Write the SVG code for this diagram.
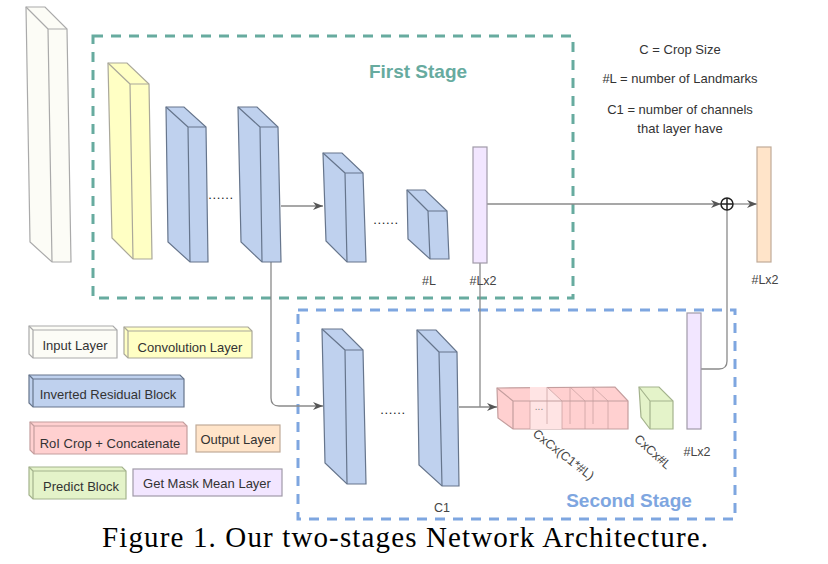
<svg xmlns="http://www.w3.org/2000/svg" width="828" height="564" viewBox="0 0 828 564">
<defs>
<marker id="arr" markerWidth="10" markerHeight="8" refX="10" refY="4" orient="auto" markerUnits="userSpaceOnUse">
<path d="M0,0 L10,4 L0,8 L3,4 Z" fill="#555"/>
</marker>
<style>
.t{font-family:"Liberation Sans",Arial,sans-serif;fill:#333;}
.lg{font-size:13px;text-anchor:middle;}
.lb{font-size:12.5px;text-anchor:middle;fill:#444;}
.dots{font-size:13px;text-anchor:middle;fill:#222;letter-spacing:0.6px;}
.inp{fill:#fcfcf6;stroke:#aaa;stroke-width:1.2;}
.yel{fill:#ffffc4;stroke:#aaa89a;stroke-width:1.2;}
.blu{fill:#bfd1ee;stroke:#66758c;stroke-width:1.2;}
.pnk{fill:#ffd0d0;stroke:#c49e9e;stroke-width:1.2;}
.grn{fill:#e4f3c9;stroke:#a4b38d;stroke-width:1.2;}
.pur{fill:#f2e6ff;stroke:#a09aa8;stroke-width:1.2;}
.org{fill:#ffe4c9;stroke:#c0ab98;stroke-width:1.2;}
.edge{fill:none;stroke-linejoin:round;}
.con{fill:none;stroke:#8a8a8a;stroke-width:1.3;}
.dash1{fill:none;stroke:#67ab9f;stroke-width:3;stroke-dasharray:10 8;}
.dash2{fill:none;stroke:#7ea6e0;stroke-width:3;stroke-dasharray:10 8;}
</style>
</defs>
<rect width="828" height="564" fill="#fff"/>

<!-- stage boxes -->
<g id="first-stage">
<rect class="dash1" x="93" y="36" width="480" height="262"/>
<text class="t" x="418" y="78" style="font-size:19px;font-weight:bold;fill:#67ab9f;text-anchor:middle">First Stage</text>
</g>
<g id="second-stage">
<rect class="dash2" x="298" y="310" width="437" height="209"/>
<text class="t" x="629" y="507" style="font-size:19px;font-weight:bold;fill:#7ea6e0;text-anchor:middle">Second Stage</text>
</g>

<!-- connectors -->
<g id="connectors">
<path class="con" d="M281,206 H323" marker-end="url(#arr)"/>
<path class="con" d="M271,262 V398 Q271,406 279,406 H323" marker-end="url(#arr)"/>
<path class="con" d="M459,407 H497" marker-end="url(#arr)"/>
<path class="con" d="M480,263 V407"/>
<path class="con" d="M487,204 H721" marker-end="url(#arr)"/>
<path class="con" d="M733,204 H757" marker-end="url(#arr)"/>
<path class="con" d="M701,369 H719 Q727,369 727,361 V210"/>
<g id="plus">
<circle cx="727" cy="204" r="6" fill="#fff" stroke="#222" stroke-width="1.5"/>
<path d="M721,204 H733 M727,198 V210" stroke="#222" stroke-width="1.5"/>
</g>
<text class="t dots" x="221" y="199">......</text>
<text class="t dots" x="386" y="224">......</text>
<text class="t dots" x="393" y="414">......</text>
</g>

<!-- nodes -->
<g id="input-layer">
<polygon class="inp" points="26,7 45,7 67,29 71,262 52,262 30,242"/>
<path class="inp edge" d="M26,7 L48,29 L67,29 M48,29 L52,262"/>
</g>
<g id="conv-layer">
<polygon class="yel" points="108,63 127,63 149,84 152,259 133,259 112,238"/>
<path class="yel edge" d="M108,63 L130,84 L149,84 M130,84 L133,259"/>
</g>
<g id="irb-1">
<polygon class="blu" points="166,107 184,107 206,127 208,262 190,262 168,242"/>
<path class="blu edge" d="M166,107 L188,127 L206,127 M188,127 L190,262"/>
</g>
<g id="irb-2">
<polygon class="blu" points="238,107 257,107 278,127 281,262 262,262 241,242"/>
<path class="blu edge" d="M238,107 L260,127 L278,127 M260,127 L262,262"/>
</g>
<g id="irb-3">
<polygon class="blu" points="323,153 342,153 363,173 366,262 347,262 326,241"/>
<path class="blu edge" d="M323,153 L345,173 L363,173 M345,173 L347,262"/>
</g>
<g id="irb-4">
<polygon class="blu" points="407,190 425,190 447,211 449,259 430,259 408,239"/>
<path class="blu edge" d="M407,190 L428,211 L447,211 M428,211 L430,259"/>
<text class="t lb" x="429" y="285">#L</text>
</g>
<g id="mask-mean-1">
<rect class="pur" x="473" y="147" width="14" height="116"/>
<text class="t lb" x="483" y="285">#Lx2</text>
</g>
<g id="output-layer">
<rect class="org" x="757" y="147" width="14" height="115"/>
<text class="t lb" x="765" y="284">#Lx2</text>
</g>
<g id="irb-5">
<polygon class="blu" points="322,329 342,329 363,350 366,484 347,484 325,463"/>
<path class="blu edge" d="M322,329 L345,350 L363,350 M345,350 L347,484"/>
</g>
<g id="irb-6">
<polygon class="blu" points="417,330 436,330 457,352 459,486 442,486 419,465"/>
<path class="blu edge" d="M417,330 L439,352 L457,352 M439,352 L442,486"/>
<text class="t lb" x="442" y="512">C1</text>
</g>
<g id="roi-crop">
<polygon class="pnk" points="497,388 615,387 628,401 628,429 513,429 498,418"/>
<polygon points="530,387 547,387 562,401 562,429 530,429" fill="#ffe4e4" stroke="none"/>
<path class="pnk edge" d="M497,388 L513,401 L628,401 M513,401 L513,429"/>
<path d="M530,401 V429 M547,387 L562,401 V429 M547,387 V424 M570,387 L585,401 V429 M570,387 V424 M593,387 L608,401 V429 M593,387 V424" fill="none" stroke="#c49e9e" stroke-width="1" stroke-opacity="0.7"/>
<text class="t" x="539" y="410" style="font-size:10px;fill:#888;text-anchor:middle">...</text>
<text class="t lb" transform="translate(561,458) rotate(38)" x="0" y="0">CxCx(C1*#L)</text>
</g>
<g id="predict-block">
<polygon class="grn" points="639,387 659,387 673,401 673,429 650,429 641,417"/>
<path class="grn edge" d="M639,387 L650,401 L673,401 M650,401 L650,429"/>
<text class="t lb" transform="translate(650,455) rotate(42)" x="0" y="0">CxCx#L</text>
</g>
<g id="mask-mean-2">
<rect class="pur" x="687" y="313" width="14" height="116"/>
<text class="t lb" x="697" y="456">#Lx2</text>
</g>

<!-- notes -->
<g id="notes">
<text class="t lg" x="680" y="54">C = Crop Size</text>
<text class="t lg" x="680" y="83">#L = number of Landmarks</text>
<text class="t lg" x="680" y="114">C1 = number of channels</text>
<text class="t lg" x="680" y="133">that layer have</text>
</g>

<!-- legend -->
<g id="legend-input">
<polygon class="inp" points="29,326 113,326 117,330 117,358 33,358 29,354"/>
<path class="inp edge" d="M29,326 L33,330 L117,330 M33,330 V358"/>
<text class="t lg" x="75" y="350">Input Layer</text>
</g>
<g id="legend-conv">
<polygon class="yel" points="124,327 248,327 252,331 252,358 128,358 124,354"/>
<path class="yel edge" d="M124,327 L128,331 L252,331 M128,331 V358"/>
<text class="t lg" x="190" y="352">Convolution Layer</text>
</g>
<g id="legend-irb">
<polygon class="blu" points="29,375 180,375 184,379 184,407 33,407 29,403"/>
<path class="blu edge" d="M29,375 L33,379 L184,379 M33,379 V407"/>
<text class="t lg" x="108" y="399">Inverted Residual Block</text>
</g>
<g id="legend-roi">
<polygon class="pnk" points="30,422 183,422 187,426 187,454 34,454 30,450"/>
<path class="pnk edge" d="M30,422 L34,426 L187,426 M34,426 V454"/>
<text class="t lg" x="110" y="448">RoI Crop + Concatenate</text>
</g>
<g id="legend-output">
<rect class="org" x="196" y="425" width="84" height="27"/>
<text class="t lg" x="238" y="444">Output Layer</text>
</g>
<g id="legend-predict">
<polygon class="grn" points="29,467 122,467 126,471 126,499 33,499 29,495"/>
<path class="grn edge" d="M29,467 L33,471 L126,471 M33,471 V499"/>
<text class="t lg" x="81" y="491">Predict Block</text>
</g>
<g id="legend-mask">
<rect class="pur" x="133" y="469" width="149" height="27"/>
<text class="t lg" x="207" y="488">Get Mask Mean Layer</text>
</g>

<text x="405" y="547" style="font-family:'Liberation Serif','Times New Roman',serif;font-size:29px;fill:#000;text-anchor:middle" textLength="606" lengthAdjust="spacing">Figure 1. Our two-stages Network Architecture.</text>
</svg>
